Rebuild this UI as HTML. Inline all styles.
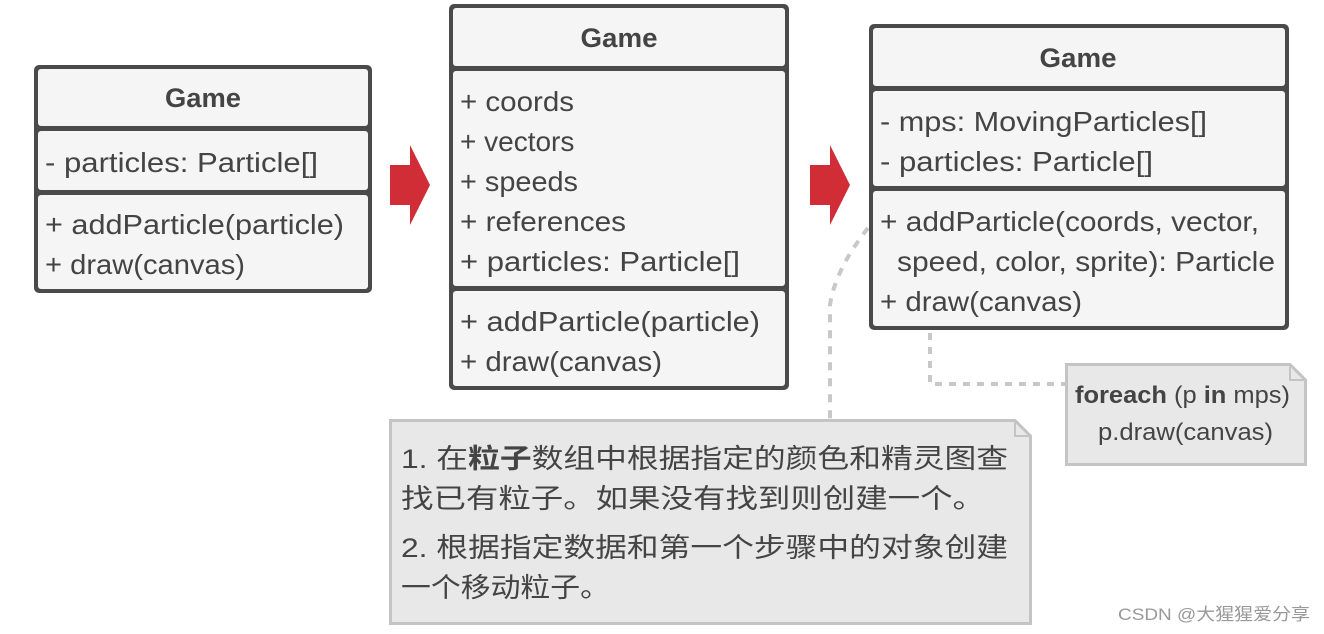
<!DOCTYPE html>
<html><head><meta charset="utf-8"><style>
html,body{margin:0;padding:0;background:#fff;}
svg{display:block;}
text{font-family:"Liberation Sans","Noto Sans CJK SC",sans-serif;fill:#444;}
</style></head><body>
<svg width="1324" height="634" viewBox="0 0 1324 634" xmlns="http://www.w3.org/2000/svg">
<path d="M868,228 Q835,270 830,305 L830,419" fill="none" stroke="#c8c8c8" stroke-width="4" stroke-dasharray="8,8"/>
<path d="M930,333 L930,384 L1065,384" fill="none" stroke="#c8c8c8" stroke-width="4" stroke-dasharray="7,7"/>

<path d="M390,165 L410,165 L410,145 L430,185 L410,225 L410,205 L390,205 Z" fill="#d02d37"/>
<path d="M810,165 L830,165 L830,145 L850,185 L830,225 L830,205 L810,205 Z" fill="#d02d37"/>

<rect x="34" y="65" width="338" height="228" rx="5" fill="#4a4a4a"/>
<rect x="38" y="69" width="330" height="57" rx="3" fill="#f5f5f5"/>
<rect x="38" y="131" width="330" height="59" rx="3" fill="#f5f5f5"/>
<rect x="38" y="195" width="330" height="94" rx="3" fill="#f5f5f5"/>
<text x="203" y="107" font-size="27" font-weight="bold" text-anchor="middle" textLength="76" lengthAdjust="spacingAndGlyphs">Game</text>
<text x="45" y="172" font-size="28" textLength="273" lengthAdjust="spacingAndGlyphs">- particles: Particle[]</text>
<text x="45" y="234" font-size="28" textLength="299" lengthAdjust="spacingAndGlyphs">+ addParticle(particle)</text>
<text x="45" y="274" font-size="28" textLength="200" lengthAdjust="spacingAndGlyphs">+ draw(canvas)</text>

<rect x="449" y="4" width="340" height="386" rx="5" fill="#4a4a4a"/>
<rect x="453" y="8" width="332" height="58" rx="3" fill="#f5f5f5"/>
<rect x="453" y="71" width="332" height="215" rx="3" fill="#f5f5f5"/>
<rect x="453" y="291" width="332" height="95" rx="3" fill="#f5f5f5"/>
<text x="619" y="47" font-size="27" font-weight="bold" text-anchor="middle" textLength="77" lengthAdjust="spacingAndGlyphs">Game</text>
<text x="460" y="111" font-size="28" textLength="114" lengthAdjust="spacingAndGlyphs">+ coords</text>
<text x="460" y="151" font-size="28">+ vectors</text>
<text x="460" y="191" font-size="28" textLength="118" lengthAdjust="spacingAndGlyphs">+ speeds</text>
<text x="460" y="231" font-size="28" textLength="166" lengthAdjust="spacingAndGlyphs">+ references</text>
<text x="460" y="271" font-size="28" textLength="280" lengthAdjust="spacingAndGlyphs">+ particles: Particle[]</text>
<text x="460" y="331" font-size="28" textLength="300" lengthAdjust="spacingAndGlyphs">+ addParticle(particle)</text>
<text x="460" y="371" font-size="28" textLength="202" lengthAdjust="spacingAndGlyphs">+ draw(canvas)</text>

<rect x="869" y="24" width="420" height="306" rx="5" fill="#4a4a4a"/>
<rect x="873" y="28" width="412" height="58" rx="3" fill="#f5f5f5"/>
<rect x="873" y="91" width="412" height="95" rx="3" fill="#f5f5f5"/>
<rect x="873" y="191" width="412" height="135" rx="3" fill="#f5f5f5"/>
<text x="1078" y="67" font-size="27" font-weight="bold" text-anchor="middle" textLength="77" lengthAdjust="spacingAndGlyphs">Game</text>
<text x="880" y="131" font-size="28" textLength="327" lengthAdjust="spacingAndGlyphs">- mps: MovingParticles[]</text>
<text x="880" y="171" font-size="28" textLength="273" lengthAdjust="spacingAndGlyphs">- particles: Particle[]</text>
<text x="880" y="231" font-size="28" textLength="379" lengthAdjust="spacingAndGlyphs">+ addParticle(coords, vector,</text>
<text x="897" y="271" font-size="28" textLength="378" lengthAdjust="spacingAndGlyphs">speed, color, sprite): Particle</text>
<text x="880" y="311" font-size="28" textLength="202" lengthAdjust="spacingAndGlyphs">+ draw(canvas)</text>

<path d="M1066.5,364.5 L1290,364.5 L1305.5,380 L1305.5,464.5 L1066.5,464.5 Z" fill="#e8e8e8" stroke="#c4c4c4" stroke-width="3"/>
<path d="M1290,364.5 L1290,380 L1305.5,380" fill="none" stroke="#c4c4c4" stroke-width="2"/>
<text x="1075" y="403" font-size="24" textLength="215" lengthAdjust="spacingAndGlyphs"><tspan font-weight="bold">foreach</tspan> (p <tspan font-weight="bold">in</tspan> mps)</text>
<text x="1098" y="440" font-size="24" textLength="175" lengthAdjust="spacingAndGlyphs">p.draw(canvas)</text>

<path d="M390.5,420.5 L1015,420.5 L1030.5,436 L1030.5,623.5 L390.5,623.5 Z" fill="#e8e8e8" stroke="#c4c4c4" stroke-width="3"/>
<path d="M1015,420.5 L1015,436 L1030.5,436" fill="none" stroke="#c4c4c4" stroke-width="2"/>
<text x="401" y="468" font-size="27" textLength="607" lengthAdjust="spacingAndGlyphs">1. 在<tspan font-weight="bold">粒子</tspan>数组中根据指定的颜色和精灵图查</text>
<text x="401" y="508" font-size="27" textLength="584" lengthAdjust="spacingAndGlyphs">找已有粒子。如果没有找到则创建一个。</text>
<text x="401" y="557" font-size="27" textLength="607" lengthAdjust="spacingAndGlyphs">2. 根据指定数据和第一个步骤中的对象创建</text>
<text x="401" y="597" font-size="27" textLength="209" lengthAdjust="spacingAndGlyphs">一个移动粒子。</text>

<text x="1118" y="620" font-size="17" style="fill:#999" textLength="192" lengthAdjust="spacingAndGlyphs">CSDN @大猩猩爱分享</text>
</svg>
</body></html>
